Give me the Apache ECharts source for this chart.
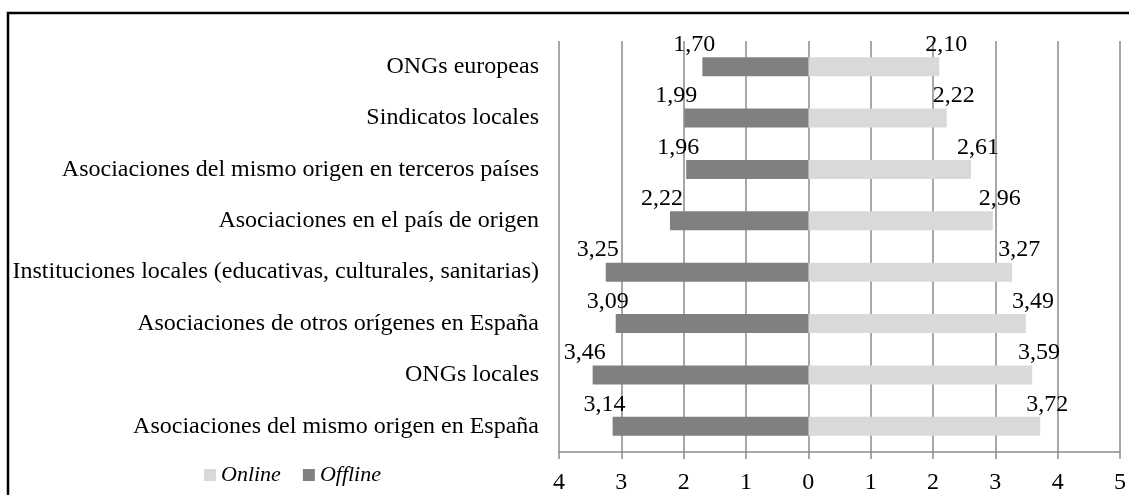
<!DOCTYPE html>
<html>
<head>
<meta charset="utf-8">
<script src="https://cdn.jsdelivr.net/npm/echarts@6/dist/echarts.min.js"></script>
<style>
html,body{margin:0;padding:0;background:#fff;}
#chart{width:1129px;height:495px;}
</style>
</head>
<body>
<div id="chart"></div>
<script>
// Categories listed bottom to top (ECharts category axis order)
const categories = [
  'Asociaciones del mismo origen en España',
  'ONGs locales',
  'Asociaciones de otros orígenes en España',
  'Instituciones locales (educativas, culturales, sanitarias)',
  'Asociaciones en el país de origen',
  'Asociaciones del mismo origen en terceros países',
  'Sindicatos locales',
  'ONGs europeas'
];
const online = [3.72, 3.59, 3.49, 3.27, 2.96, 2.61, 2.22, 2.10];
const offline = [3.14, 3.46, 3.09, 3.25, 2.22, 1.96, 1.99, 1.70];
const xTicks = [-4, -3, -2, -1, 0, 1, 2, 3, 4, 5];

const FONT = '"Liberation Serif", "Times New Roman", serif';
const FS = 24;
const fmt = v => Math.abs(v).toFixed(2).replace('.', ',');

const chart = echarts.init(document.getElementById('chart'), null, {renderer: 'canvas'});
chart.setOption({
  animation: false,
  backgroundColor: '#fff',
  textStyle: {fontFamily: FONT, color: '#000'},
  grid: {left: 559, right: 9, top: 41, bottom: 41, containLabel: false},
  legend: {
    data: ['Online', 'Offline'],
    left: 199, top: 459,
    itemWidth: 12, itemHeight: 12, itemGap: 22,
    icon: 'rect',
    textStyle: {fontFamily: FONT, fontStyle: 'italic', fontSize: 22, color: '#000'}
  },
  xAxis: {
    type: 'value',
    min: xTicks[0], max: xTicks[xTicks.length - 1], interval: 1,
    axisLine: {show: true, lineStyle: {color: '#8a8a8a', width: 1.5}},
    axisTick: {show: true, length: 7, lineStyle: {color: '#8a8a8a', width: 1.5}},
    splitLine: {show: true, lineStyle: {color: '#8a8a8a', width: 1.5}},
    axisLabel: {fontFamily: FONT, fontSize: FS, color: '#000', margin: 19, formatter: v => String(Math.abs(v))}
  },
  yAxis: {
    type: 'category',
    data: categories,
    axisLine: {show: false},
    axisTick: {show: false},
    splitLine: {show: false},
    axisLabel: {fontFamily: FONT, fontSize: FS, color: '#000', margin: 20}
  },
  series: [
    {
      name: 'Online', type: 'bar',
      data: online,
      barWidth: 19,
      itemStyle: {color: '#d9d9d9'},
      label: {
        show: true, position: 'right', distance: 0, offset: [-14, -22],
        fontFamily: FONT, fontSize: FS, color: '#000',
        formatter: p => fmt(p.value)
      }
    },
    {
      name: 'Offline', type: 'bar',
      data: offline.map(v => -v),
      barWidth: 19, barGap: '-100%',
      itemStyle: {color: '#808080'},
      label: {
        show: true, position: 'left', distance: 0, offset: [13, -22],
        fontFamily: FONT, fontSize: FS, color: '#000',
        formatter: p => fmt(p.value)
      }
    }
  ],
  graphic: [{
    type: 'rect', z: 100, silent: true,
    shape: {x: 8, y: 13, width: 1140, height: 520},
    style: {fill: 'none', stroke: '#000', lineWidth: 2.5}
  }]
});
</script>
</body>
</html>
